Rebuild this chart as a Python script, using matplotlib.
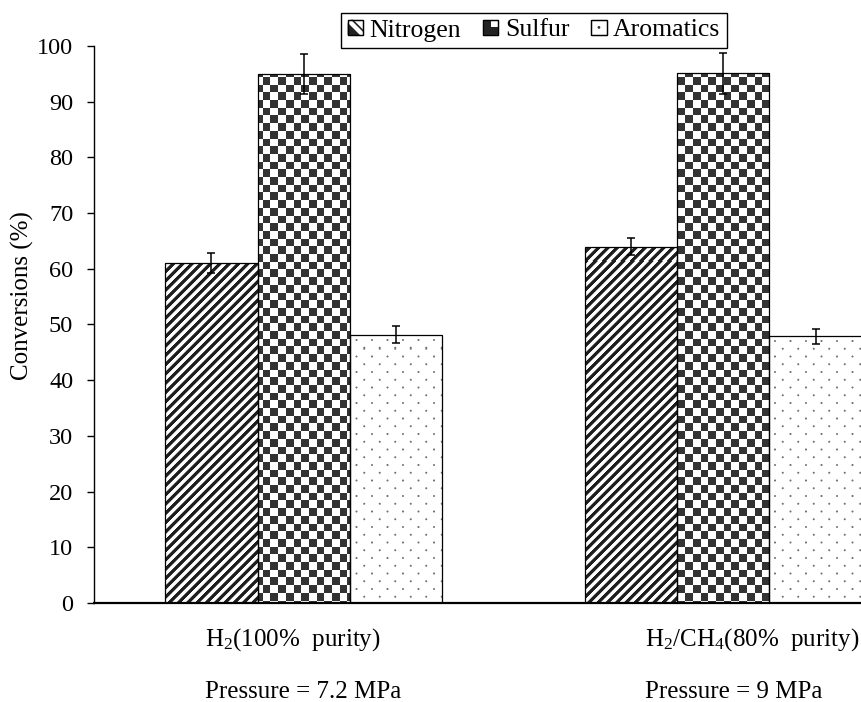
import numpy as np
import matplotlib
matplotlib.use("Agg")
import matplotlib.pyplot as plt
from matplotlib.patches import Rectangle, Polygon, Circle
from matplotlib.legend_handler import HandlerBase

plt.rcParams['font.family'] = ['Liberation Serif', 'DejaVu Serif']
plt.rcParams['mathtext.fontset'] = 'custom'
plt.rcParams['mathtext.rm'] = 'Liberation Serif'
plt.rcParams['mathtext.it'] = 'Liberation Serif:italic'

# ---- data -------------------------------------------------------------
feed_labels = [r"H$_2$(100%  purity)", r"H$_2$/CH$_4$(80%  purity)"]
pressure_labels = ["Pressure = 7.2 MPa", "Pressure = 9 MPa"]
series_names = ["Nitrogen", "Sulfur", "Aromatics"]
nitrogen = [61.0, 64.0]
sulfur = [94.9, 95.1]
aromatics = [48.2, 47.9]
nitrogen_err = [1.8, 1.5]
sulfur_err = [3.6, 3.7]
aromatics_err = [1.5, 1.35]
y_ticks = list(range(0, 101, 10))

W, H, DPI = 862, 702, 100
AX_L, AX_TOP, AX_W, AX_H = 94, 46, 839, 557   # plot area in pixels
fig = plt.figure(figsize=(W / DPI, H / DPI), dpi=DPI)
# plot area runs past the right edge of the canvas
ax = fig.add_axes([AX_L / W, 1 - (AX_TOP + AX_H) / H, AX_W / W, AX_H / H])
XLIM, YLIM = (-0.5, 1.5), (0, 100)
ax.set_xlim(*XLIM)
ax.set_ylim(*YLIM)

bar_w = 0.2205
x = np.arange(len(feed_labels))
values = [nitrogen, sulfur, aromatics]
errors = [nitrogen_err, sulfur_err, aromatics_err]
kinds = ["stripes", "checker", "dots"]
offsets = [-bar_w, 0.0, bar_w]


def texture(kind):
    """Greyscale fill pattern (1 = white) covering the plot area pixel grid."""
    X, Y = np.meshgrid(AX_L + np.arange(AX_W) + 0.5, AX_TOP + np.arange(AX_H) + 0.5)
    if kind == "stripes":
        period = 9.3
        v = np.cos(2 * np.pi * (X + Y) / period)
        d = np.clip(0.5 + 1.6 * v, 0, 1)
        return 1 - 0.88 * d
    if kind == "checker":
        s = 7.7
        c = (np.floor(X / s) + np.floor(Y / s)) % 2
        return np.where(c == 0, 0.2, 1.0)
    # staggered grid of small grey dots
    ry, cx = 7.75, 15.5
    j = np.round(Y / ry)
    off = (j % 2) * cx / 2
    xc = np.round((X - off) / cx) * cx + off
    d = np.hypot(X - xc, Y - j * ry)
    return 1 - 0.55 * np.clip(1.5 - d, 0, 1)


for vals, errs, kind, off in zip(values, errors, kinds, offsets):
    b = ax.bar(x + off, vals, width=bar_w, facecolor="none", edgecolor="black",
               linewidth=0.9, zorder=3, yerr=errs,
               error_kw=dict(ecolor="black", elinewidth=1.1, capsize=3.2,
                             capthick=1.1, zorder=4))
    tex = texture(kind)
    for rect in b.patches:
        im = ax.imshow(tex, extent=(*XLIM, *YLIM), origin="upper", cmap="gray",
                       vmin=0, vmax=1, interpolation="nearest", aspect="auto",
                       zorder=2)
        im.set_clip_path(rect)

ax.set_xlim(*XLIM)
ax.set_ylim(*YLIM)

# axes styling
for side in ("top", "right"):
    ax.spines[side].set_visible(False)
ax.spines["left"].set_linewidth(1.0)
ax.spines["bottom"].set_linewidth(1.6)
ax.spines["bottom"].set_zorder(5)
ax.set_yticks(y_ticks)
ax.tick_params(axis="y", direction="out", length=5, width=1.0, labelsize=17.5, pad=10)
ax.set_xticks([])
fig.text(22 / W, 1 - 296 / H, "Conversions (%)", rotation=90, ha="center",
         va="center", fontsize=18)

# category labels, two lines each, left aligned under each group
label_x = [205, 645]
for xp, feed, pres in zip(label_x, feed_labels, pressure_labels):
    fig.text(xp / W, 1 - 646 / H, feed, ha="left", va="baseline", fontsize=18)
    fig.text(xp / W, 1 - 698 / H, pres, ha="left", va="baseline", fontsize=18)


class Swatch(HandlerBase):
    def __init__(self, kind):
        super().__init__()
        self.kind = kind

    def create_artists(self, legend, orig_handle, xdescent, ydescent, width,
                       height, fontsize, trans):
        x0, y0 = -xdescent, -ydescent
        s = height
        arts = [Rectangle((x0, y0), s, s, facecolor="white", edgecolor="black",
                          linewidth=0.9, transform=trans)]
        if self.kind == "stripes":
            arts.append(Polygon([(x0, y0), (x0 + 0.8 * s, y0), (x0, y0 + 0.8 * s)],
                                closed=True, facecolor="#222222", edgecolor="none",
                                transform=trans))
            arts.append(Polygon([(x0 + s, y0 + 0.2 * s), (x0 + s, y0 + 0.35 * s),
                                 (x0 + 0.35 * s, y0 + s), (x0 + 0.2 * s, y0 + s)],
                                closed=True, facecolor="#222222", edgecolor="none",
                                transform=trans))
        elif self.kind == "checker":
            arts.append(Rectangle((x0, y0), s, s / 2, facecolor="#222222",
                                  edgecolor="none", transform=trans))
            arts.append(Rectangle((x0, y0 + s / 2), s / 2, s / 2, facecolor="#222222",
                                  edgecolor="none", transform=trans))
        else:
            arts.append(Circle((x0 + s / 2, y0 + s / 2), s * 0.09, facecolor="#333333",
                               edgecolor="none", transform=trans))
        arts.append(Rectangle((x0, y0), s, s, facecolor="none", edgecolor="black",
                              linewidth=0.9, transform=trans))
        return arts


proxies = [Rectangle((0, 0), 1, 1) for _ in series_names]
leg = fig.legend(proxies, series_names, loc="center",
                 bbox_to_anchor=(534 / W, 1 - 30.5 / H), ncol=3, fontsize=18.5,
                 frameon=True, fancybox=False, framealpha=1, edgecolor="black",
                 handlelength=0.55, handleheight=0.55, handletextpad=0.3,
                 columnspacing=0.85, borderpad=0.25,
                 handler_map={p: Swatch(k) for p, k in zip(proxies, kinds)})
leg.get_frame().set_linewidth(1.0)

fig.savefig("out.png", dpi=DPI)
